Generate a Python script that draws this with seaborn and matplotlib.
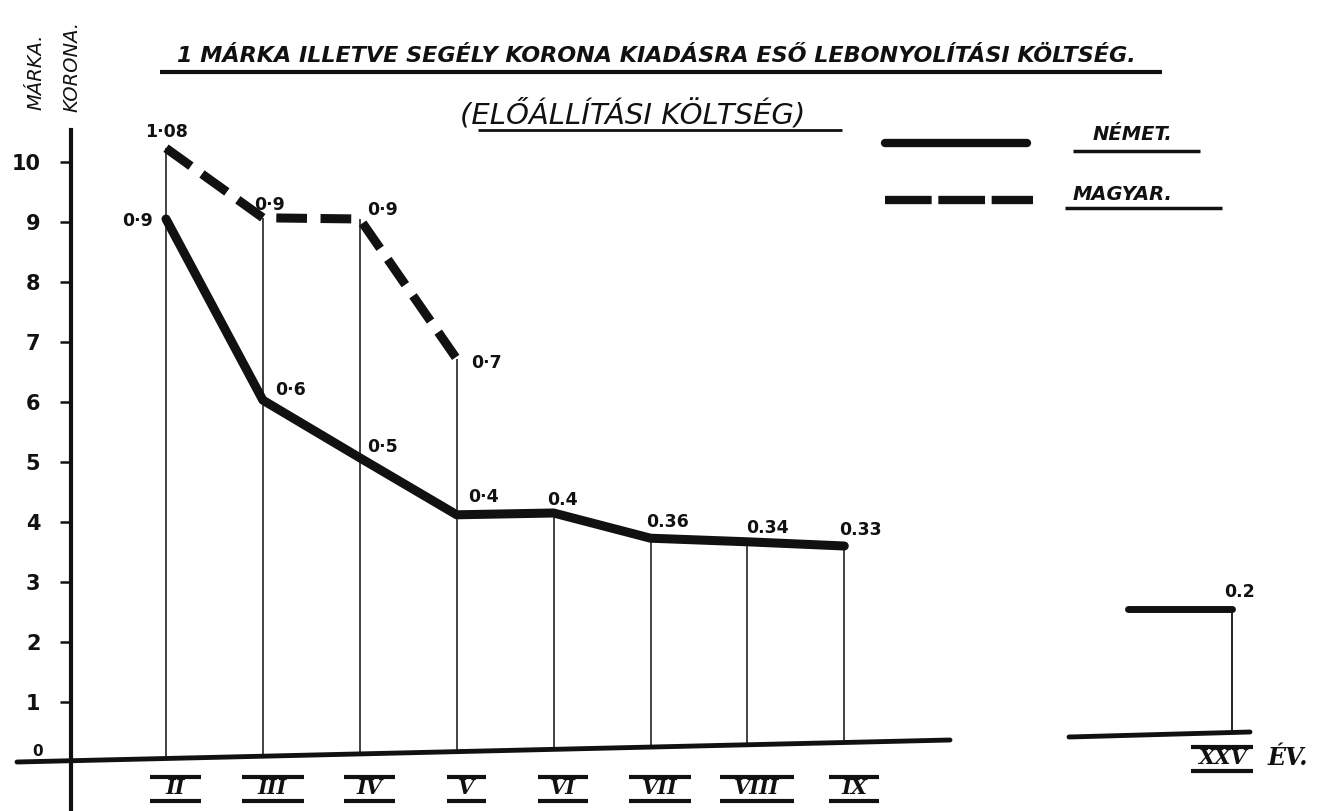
import numpy as np
import pandas as pd
import matplotlib
matplotlib.use("Agg")
import matplotlib.pyplot as plt
import seaborn as sns

# evek (romai szammal) es helyuk a vizszintes tengelyen
evek = ["II", "III", "IV", "V", "VI", "VII", "VIII", "IX"]
ev_pos = [2, 3, 4, 5, 6, 7, 8, 9]

# a rajzon leolvasott magassagok (a fuggoleges 0-10 beosztas szerint)
nemet = [9.05, 6.03, 5.07, 4.12, 4.15, 3.73, 3.67, 3.60]
nemet_felirat = ["0·9", "0·6", "0·5", "0·4", "0.4", "0.36", "0.34", "0.33"]
magyar = [10.23, 9.07, 9.05, 6.72]
magyar_felirat = ["1·08", "0·9", "0·9", "0·7"]

# XXV. ev kulon, a megszakitott tengelyszakaszon
xxv_ev = "XXV"
xxv_pos = 13
xxv_nemet = 2.55
xxv_felirat = "0.2"

y_ticks = list(range(1, 11))

INK = "#111111"


# pixel -> adat atszamitas (csak az elrendezeshez)
def px(x):
    return 2 + (x - 166) / 96.9


def py(y):
    return (762 - y) / 60


df = pd.concat([
    pd.DataFrame({"ev": ev_pos, "ertek": nemet, "orszag": "NÉMET"}),
    pd.DataFrame({"ev": ev_pos[:len(magyar)], "ertek": magyar, "orszag": "MAGYAR"}),
])

sns.set_theme(style="white")
plt.rcParams["font.family"] = ["DejaVu Sans"]

fig = plt.figure(figsize=(13.41, 8.11), dpi=100)
ax = fig.add_axes([0, 0, 1, 1])
ax.set_xlim(px(0), px(1341))
ax.set_ylim(py(811), py(0))

# alapvonalak (kezzel huzott, kicsit ferde x tengely)
base_x = [px(17), px(950)]
base_y = [py(762), py(740)]
ax.plot(base_x, base_y, color=INK, lw=3.5, solid_capstyle="round")
ax.plot([px(1069), px(1250)], [py(737), py(732)], color=INK, lw=3.5, solid_capstyle="round")

# fuggoleges vetitovonalak
top = df.groupby("ev")["ertek"].max()
ax.vlines(top.index, np.interp(top.index, base_x, base_y), top.values, color=INK, lw=1.1)
ax.vlines(xxv_pos, py(734), xxv_nemet, color=INK, lw=1.3)

sns.lineplot(data=df, x="ev", y="ertek", style="orszag", style_order=["NÉMET", "MAGYAR"],
             dashes={"NÉMET": "", "MAGYAR": (3.4, 1.5)}, color=INK, linewidth=6.5,
             estimator=None, sort=False, legend=False, ax=ax, solid_capstyle="round")
ax.hlines(xxv_nemet, xxv_pos - 1.07, xxv_pos, color=INK, lw=5, capstyle="round")
ax.set_xlabel("")
ax.set_ylabel("")

# ertekfeliratok
num_kw = dict(fontsize=12.5, fontweight="bold", color=INK, ha="center", va="center",
              textcoords="offset points")
magyar_off = [(0, 16), (7, 13), (23, 9), (30, -4)]
nemet_off = [(-29, -2), (28, 10), (23, 11), (27, 18), (9, 13), (17, 16), (20, 14), (16, 16)]
for x, y, t, (dx, dy) in zip(ev_pos, magyar, magyar_felirat, magyar_off):
    ax.annotate(t, (x, y), xytext=(dx * 0.72, dy * 0.72), **num_kw)
for x, y, t, (dx, dy) in zip(ev_pos, nemet, nemet_felirat, nemet_off):
    ax.annotate(t, (x, y), xytext=(dx * 0.72, dy * 0.72), **num_kw)
ax.annotate(xxv_felirat, (xxv_pos, xxv_nemet), xytext=(8 * 0.72, 17 * 0.72), **num_kw)

# fuggoleges tengely
for s in ["top", "right", "bottom"]:
    ax.spines[s].set_visible(False)
ax.spines["left"].set_position(("data", px(71)))
ax.spines["left"].set_bounds(py(811), py(130))
ax.spines["left"].set_linewidth(3)
ax.spines["left"].set_color(INK)
ax.set_xticks([])
ax.set_yticks(y_ticks)
ax.set_yticklabels([str(v) for v in y_ticks], fontsize=15, fontweight="bold", color=INK)
ax.tick_params(axis="y", direction="out", length=8, width=1.8, color=INK, pad=14, left=True)
ax.text(px(38), py(751), "0", fontsize=11, fontweight="bold", color=INK, ha="center", va="center")
ax.grid(False)

# romai evszamok fole- es alahuzva
for x, t in zip(ev_pos + [xxv_pos], evek + [xxv_ev]):
    yc = py(788) if t != xxv_ev else py(758)
    xc = x + 0.1 if t != xxv_ev else x - 0.1
    ax.text(xc, yc, t, fontsize=15, fontweight="bold", fontstyle="italic", family="DejaVu Serif",
            color=INK, ha="center", va="center")
    w = 0.14 + 0.06 * len(t)
    ax.hlines([yc + 0.19, yc - 0.21], xc - w, xc + w, color=INK, lw=3)
ax.text(px(1268), py(758), "ÉV.", fontsize=17, fontweight="bold", fontstyle="italic",
        family="DejaVu Serif", color=INK, ha="left", va="center")

# cimek
ax.text(px(177), py(56), "1 MÁRKA ILLETVE SEGÉLY KORONA KIADÁSRA ESŐ LEBONYOLÍTÁSI KÖLTSÉG.",
        fontsize=16, fontstyle="italic", fontweight="bold", color=INK, ha="left", va="center")
ax.hlines(py(72), px(160), px(1162), color=INK, lw=3)
ax.text(px(460), py(114), "(ELŐÁLLÍTÁSI KÖLTSÉG)", fontsize=21, fontstyle="italic",
        color=INK, ha="left", va="center")
ax.hlines(py(130), px(478), px(842), color=INK, lw=2)

# tengelyfelirat
ax.text(px(36), py(72), "MÁRKA.", rotation=90, fontsize=14, fontstyle="italic",
        color=INK, ha="center", va="center")
ax.text(px(72), py(66), "KORONA.", rotation=90, fontsize=14, fontstyle="italic",
        color=INK, ha="center", va="center")

# jelmagyarazat
ax.plot([px(885), px(1027)], [py(143), py(143)], color=INK, lw=6, solid_capstyle="round")
ax.plot([px(885), px(1033)], [py(200), py(200)], color=INK, lw=6, dashes=(5.6, 0.8))
ax.text(px(1093), py(135), "NÉMET.", fontsize=14, fontweight="bold", fontstyle="italic",
        color=INK, ha="left", va="center")
ax.hlines(py(151), px(1073), px(1200), color=INK, lw=2.5)
ax.text(px(1073), py(195), "MAGYAR.", fontsize=14, fontweight="bold", fontstyle="italic",
        color=INK, ha="left", va="center")
ax.hlines(py(208), px(1065), px(1222), color=INK, lw=2.5)

fig.savefig("out.png", dpi=100, facecolor="white")
